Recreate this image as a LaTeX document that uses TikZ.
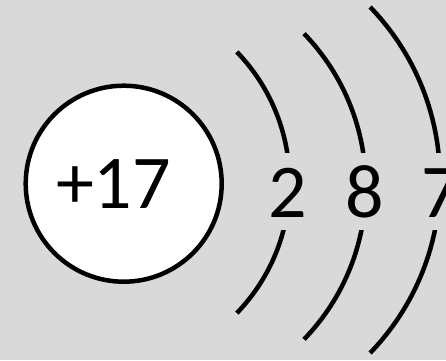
\documentclass[tikz,border=0pt]{standalone}
\usepackage{fontspec}
\setmainfont{Carlito}
\usepackage{xcolor}
\usepackage{tikz}
\definecolor{bggray}{RGB}{217,217,217}

\begin{document}
\begin{tikzpicture}[
    x=1pt, y=1pt,
    nucleus/.style={circle, draw=black, fill=white, line width=4.5pt, minimum size=196pt, inner sep=0pt},
    shell/.style={draw=black, line width=4.5pt},
    charge/.style={font=\fontsize{76}{80}\selectfont, anchor=base, inner sep=0pt},
    count/.style={font=\fontsize{76}{80}\selectfont, anchor=base, fill=bggray, inner xsep=6pt, inner ysep=0pt, text height=64pt, text depth=13pt}
]

% Background
\fill[bggray] (0,0) rectangle (446,360);
\useasboundingbox (0,0) rectangle (446,360);
\clip (0,0) rectangle (446,360);

% Nucleus
\node[nucleus] (core) at (123.7,176.3) {};
\node[charge] (plus) at (113.5,152) {+17};

% Electron shells
\draw[shell] (101.6,177.5) ++(-44:188) arc[start angle=-44, end angle=44, radius=188];
\draw[shell] (145.8,173.5) ++(-44:220) arc[start angle=-44, end angle=44, radius=220];
\draw[shell] (191,180) ++(-44:249) arc[start angle=-44, end angle=44, radius=249];

% Electrons per shell
\node[count] (first) at (287.5,143) {2};
\node[count] (second) at (365,143) {8};
\node[count] (third) at (441,143) {7};

\end{tikzpicture}
\end{document}
